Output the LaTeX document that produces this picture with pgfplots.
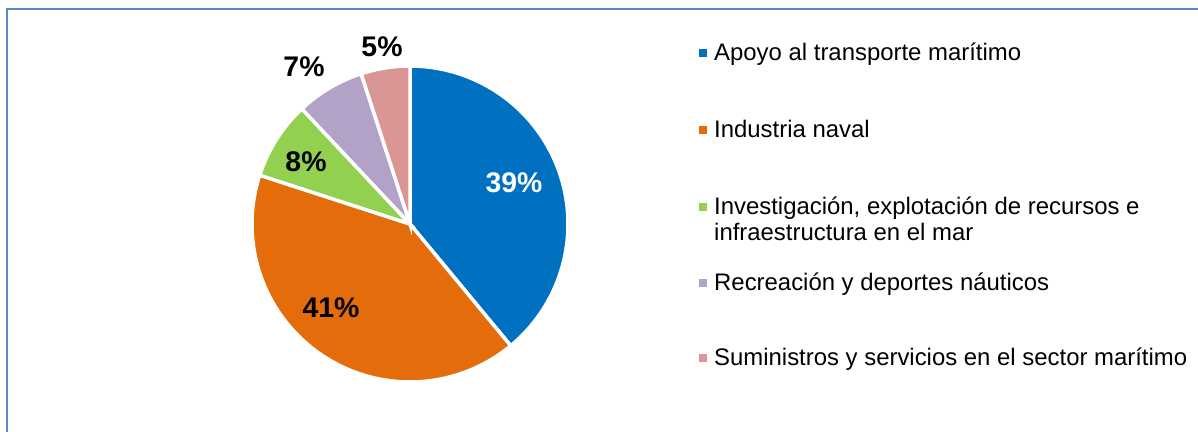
\documentclass[border=0pt]{standalone}
\usepackage{fontspec}
\setmainfont{Liberation Sans}
\usepackage{pgfplots}
\pgfplotsset{compat=1.18}

\definecolor{pieblue}{RGB}{0,112,192}
\definecolor{pieorange}{RGB}{228,108,10}
\definecolor{piegreen}{RGB}{146,208,80}
\definecolor{piepurple}{RGB}{179,162,199}
\definecolor{piepink}{RGB}{217,150,148}
\definecolor{framecol}{RGB}{91,137,199}

% one slice: cumulative share before it, its own share (%), colour
\newcommand\pieslice[3]{%
  \addplot[fill=#3, draw=white, line width=3.5bp, samples=90, variable=\t,
    domain={90-3.6*(#1+#2)}:{90-3.6*(#1)}]
    ({410+158*cos(\t)},{208+158*sin(\t)}) -- (axis cs:410,208) -- cycle;}

\begin{document}
\begin{tikzpicture}
\begin{axis}[
  scale only axis, width=1198bp, height=432bp,
  xmin=0, xmax=1198, ymin=0, ymax=432,
  hide axis, clip=false,
]
  % shares: 39, 41, 8, 7, 5
  \pieslice{0}{39}{pieblue}
  \pieslice{39}{41}{pieorange}
  \pieslice{80}{8}{piegreen}
  \pieslice{88}{7}{piepurple}
  \pieslice{95}{5}{piepink}

  \begin{scope}[font=\fontsize{28.5}{32}\selectfont\bfseries]
    \node[white] at (axis cs:514,249) {39\%};
    \node at (axis cs:331,124) {41\%};
    \node at (axis cs:306,270) {8\%};
    \node at (axis cs:304,365) {7\%};
    \node at (axis cs:382,385) {5\%};
  \end{scope}

  % legend
  \begin{scope}[font=\fontsize{24}{26}\selectfont]
    \fill[pieblue]   (axis cs:699,375) rectangle (axis cs:707,383);
    \fill[pieorange] (axis cs:699,298) rectangle (axis cs:707,306);
    \fill[piegreen]  (axis cs:699,221) rectangle (axis cs:707,229);
    \fill[piepurple] (axis cs:699,145) rectangle (axis cs:707,153);
    \fill[piepink]   (axis cs:699,70)  rectangle (axis cs:707,78);
    \node[anchor=base west, inner sep=0pt] at (axis cs:714,371) {Apoyo al transporte marítimo};
    \node[anchor=base west, inner sep=0pt] at (axis cs:714,294) {Industria naval};
    \node[anchor=base west, inner sep=0pt] at (axis cs:714,217) {Investigación, explotación de recursos e};
    \node[anchor=base west, inner sep=0pt] at (axis cs:714,191) {infraestructura en el mar};
    \node[anchor=base west, inner sep=0pt] at (axis cs:714,141) {Recreación y deportes náuticos};
    \node[anchor=base west, inner sep=0pt] at (axis cs:714,66)  {Suministros y servicios en el sector marítimo};
  \end{scope}

  \draw[framecol, line width=2bp] (axis cs:7,-5) -- (axis cs:7,423) -- (axis cs:1205,423);
\end{axis}
\pgfresetboundingbox
\path (0,0) rectangle (1198bp,432bp);
\end{tikzpicture}
\end{document}
